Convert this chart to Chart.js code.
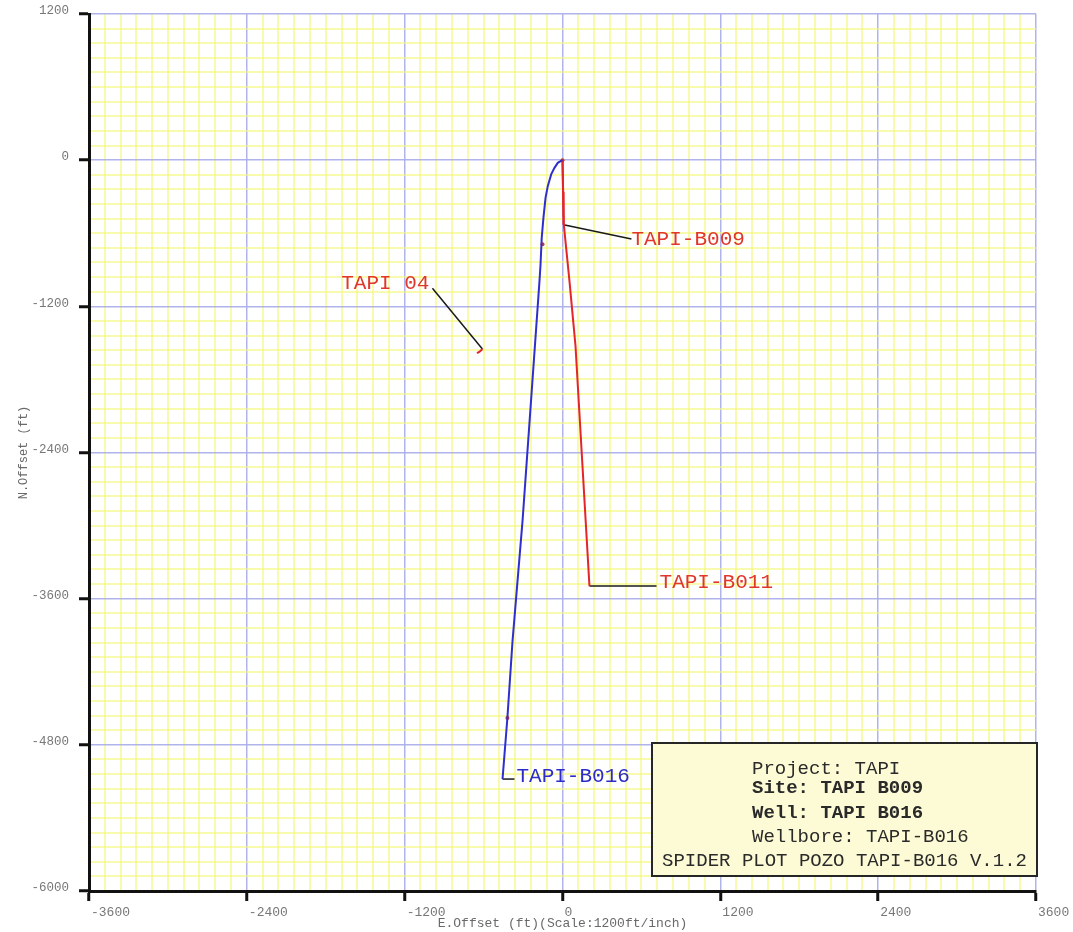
<!DOCTYPE html>
<html>
<head>
<meta charset="utf-8">
<title>Spider Plot TAPI-B016</title>
<script src="https://cdn.jsdelivr.net/npm/chart.js@4.4.1/dist/chart.umd.min.js"></script>
<style>
  html, body { margin: 0; padding: 0; background: #ffffff; }
  #wrap { width: 1073px; height: 932px; }
</style>
</head>
<body>
<div id="wrap"><canvas id="spider" width="1073" height="932"></canvas></div>
<script>
// Axis ranges and grid steps (ft)
const eRange = [-3600, 3600];
const nRange = [-6000, 1200];
const majorStep = 1200;
const minorStep = 120;

// TAPI-B016 trajectory (E offset, N offset) in ft
const b016E = [0, -36, -61, -86, -112, -129, -145, -158, -167, -175, -304, -380, -419, -456];
const b016N = [0, -22, -63, -117, -213, -309, -474, -638, -856, -993, -2963, -3948, -4580, -5081];

// TAPI-B009 trajectory
const b009E = [0, 4, 8];
const b009N = [0, -260, -530];

// TAPI-B011 trajectory
const b011E = [0, 10, 53, 99, 205];
const b011N = [0, -530, -993, -1527, -3497];

// TAPI 04 (short marker)
const tapi04E = [-650, -630, -609];
const tapi04N = [-1585, -1572, -1551];

// Station markers along B016
const stationE = [0, -152, -419];
const stationN = [0, -690, -4580];

// Well name tags and their leader lines
const tagNames = ['TAPI-B009', 'TAPI 04', 'TAPI-B011', 'TAPI-B016'];
const tagColors = ['#e0362c', '#e0362c', '#e0362c', '#2c2cc8'];
const tagAlign = ['left', 'right', 'left', 'left'];
const tagE = [524, -1012, 738, -350];
const tagN = [-648, -1010, -3464, -5056];
const leaderFromE = [8, -609, 205, -456];
const leaderFromN = [-530, -1551, -3497, -5081];
const leaderToE = [524, -989, 715, -365];
const leaderToN = [-648, -1051, -3497, -5081];

// Title block text
const infoLines = ['Project: TAPI', 'Site: TAPI B009', 'Well: TAPI B016', 'Wellbore: TAPI-B016', 'SPIDER PLOT POZO TAPI-B016 V.1.2'];
const infoBold = [false, true, true, false, false];

const zip = (xs, ys) => xs.map((x, i) => ({ x: x, y: ys[i] }));
const isMajor = v => Math.abs(Math.round(v) % majorStep) === 0;

const mono = '"Liberation Mono", "Courier New", "DejaVu Sans Mono", monospace';

const datasets = [
  { label: 'TAPI-B016', data: zip(b016E, b016N), borderColor: '#2f2fcc', borderWidth: 2 },
  { label: 'TAPI-B011', data: zip(b011E, b011N), borderColor: '#e3262a', borderWidth: 2 },
  { label: 'TAPI-B009', data: zip(b009E, b009N), borderColor: '#e3262a', borderWidth: 2 },
  { label: 'TAPI 04', data: zip(tapi04E, tapi04N), borderColor: '#e3262a', borderWidth: 2 },
];
leaderFromE.forEach((e, i) => {
  datasets.push({
    label: 'leader ' + tagNames[i],
    data: [{ x: e, y: leaderFromN[i] }, { x: leaderToE[i], y: leaderToN[i] }],
    borderColor: '#1a1a1a', borderWidth: 1.5
  });
});
datasets.push({
  label: 'stations', data: zip(stationE, stationN), showLine: false,
  pointRadius: 2, pointBackgroundColor: '#c83a2a', pointBorderWidth: 0
});
datasets.forEach(d => {
  if (d.showLine === undefined) d.showLine = true;
  if (d.pointRadius === undefined) d.pointRadius = 0;
  d.tension = 0;
  d.fill = false;
});

// Well name tags
const tagPlugin = {
  id: 'wellTags',
  afterDatasetsDraw(chart) {
    const { ctx, scales } = chart;
    ctx.save();
    ctx.font = '21px ' + mono;
    ctx.textBaseline = 'middle';
    tagNames.forEach((t, i) => {
      ctx.fillStyle = tagColors[i];
      ctx.textAlign = tagAlign[i];
      ctx.fillText(t, scales.x.getPixelForValue(tagE[i]), scales.y.getPixelForValue(tagN[i]));
    });
    ctx.restore();
  }
};

// Title block in the lower right corner
const infoPlugin = {
  id: 'infoBox',
  afterDraw(chart) {
    const { ctx, chartArea } = chart;
    const right = chartArea.right + 1;
    const left = right - 385;
    const bottom = chartArea.bottom - 15;
    const top = bottom - 133;
    ctx.save();
    ctx.fillStyle = '#fdfbd6';
    ctx.fillRect(left, top, right - left, bottom - top);
    ctx.strokeStyle = '#262626';
    ctx.lineWidth = 2;
    ctx.strokeRect(left, top, right - left, bottom - top);
    ctx.fillStyle = '#2a2a2a';
    ctx.textBaseline = 'middle';
    const ys = [26, 45, 70, 94, 118];
    infoLines.forEach((t, i) => {
      ctx.font = (infoBold[i] ? 'bold ' : '') + '19px ' + mono;
      if (i === infoLines.length - 1) {
        ctx.textAlign = 'center';
        ctx.fillText(t, (left + right) / 2, top + ys[i]);
      } else {
        ctx.textAlign = 'left';
        ctx.fillText(t, left + 100, top + ys[i]);
      }
    });
    ctx.restore();
  }
};

const gridOpts = {
  color: ctx => (ctx.tick && isMajor(ctx.tick.value)) ? 'rgba(168,172,232,0.9)' : 'rgba(244,246,120,0.6)',
  lineWidth: ctx => (ctx.tick && isMajor(ctx.tick.value)) ? 1.5 : 2,
  tickColor: ctx => (ctx.tick && isMajor(ctx.tick.value)) ? '#111111' : 'rgba(0,0,0,0)',
  tickWidth: 3,
  tickLength: 10,
  drawTicks: true
};

new Chart(document.getElementById('spider'), {
  type: 'scatter',
  data: { datasets },
  options: {
    responsive: false,
    animation: false,
    layout: { padding: { top: 14, right: 37, left: 0, bottom: 0 } },
    plugins: { legend: { display: false }, tooltip: { enabled: false } },
    scales: {
      x: {
        type: 'linear', min: eRange[0], max: eRange[1],
        grid: gridOpts,
        border: { display: true, color: '#111111', width: 3 },
        ticks: {
          stepSize: minorStep, autoSkip: false, maxTicksLimit: 500, maxRotation: 0,
          align: 'start', padding: 4, color: '#777777', labelOffset: 2,
          font: { family: mono, size: 13 },
          callback: v => isMajor(v) ? String(Math.round(v)) : ''
        },
        title: {
          display: true, text: 'E.Offset (ft)(Scale:1200ft/inch)', color: '#6a6a6a',
          font: { family: mono, size: 13 }, padding: { top: 0, bottom: 1 }
        },
        afterFit: s => { s.height = 41; s.paddingLeft = 0; s.paddingRight = 0; }
      },
      y: {
        type: 'linear', min: nRange[0], max: nRange[1],
        grid: gridOpts,
        border: { display: true, color: '#111111', width: 3 },
        ticks: {
          stepSize: minorStep, autoSkip: false, maxTicksLimit: 500,
          padding: 10, color: '#777777', labelOffset: -3,
          font: { family: mono, size: 12.5 },
          callback: v => isMajor(v) ? String(Math.round(v)) : ''
        },
        title: {
          display: true, text: 'N.Offset (ft)', color: '#6a6a6a',
          font: { family: mono, size: 12 }, padding: { top: 17, bottom: 0 }
        },
        afterFit: s => { s.width = 89; s.paddingTop = 0; s.paddingBottom = 0; }
      }
    }
  },
  plugins: [tagPlugin, infoPlugin]
});
</script>
</body>
</html>
